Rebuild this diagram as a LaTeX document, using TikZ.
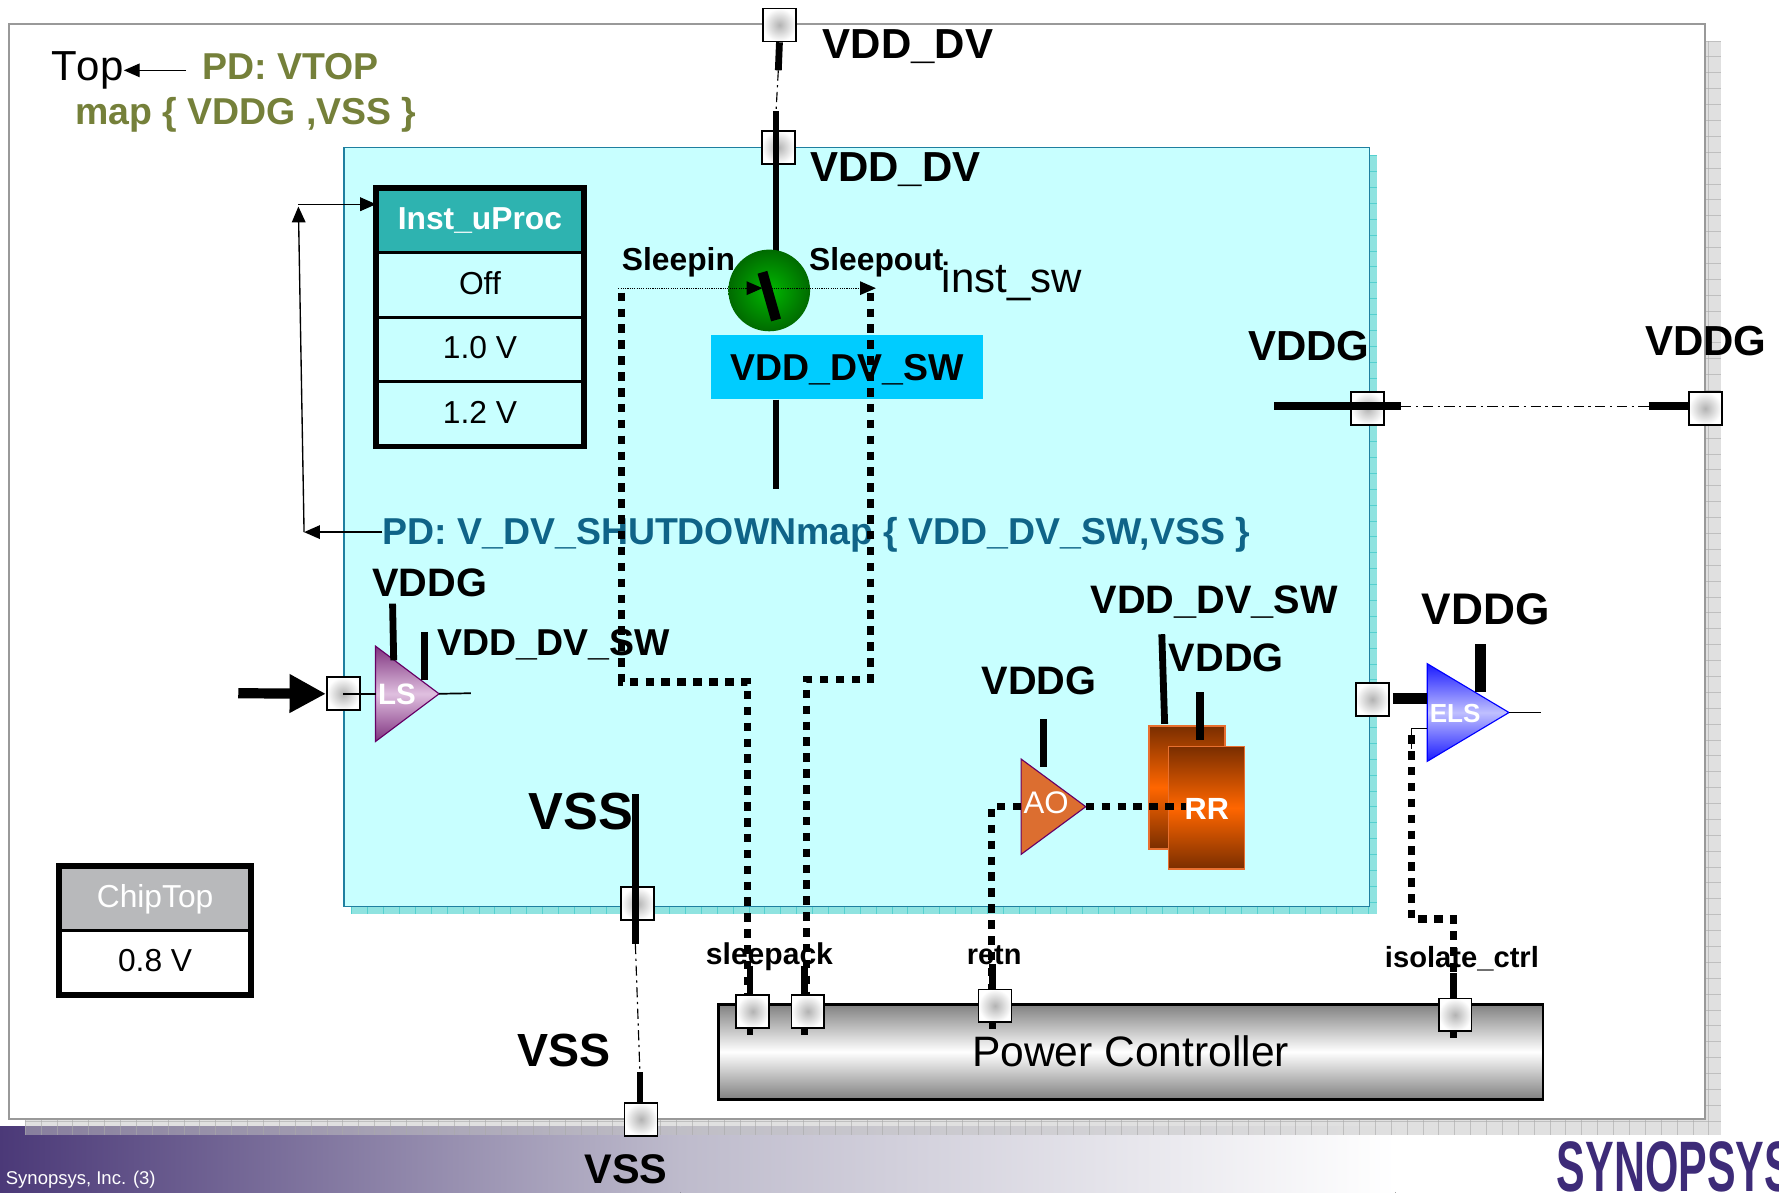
\documentclass[tikz,border=0pt]{standalone}
\usepackage{fontspec}
\setmainfont{Liberation Sans}
\usetikzlibrary{positioning,shapes.geometric,arrows.meta}

\definecolor{footpurple}{HTML}{4B3978}
\definecolor{footmid}{HTML}{BEBBCC}
\definecolor{logopurple}{HTML}{3D2B78}
\definecolor{shadegray}{HTML}{C1C1C1}
\definecolor{shadeline}{HTML}{A9A9A9}
\definecolor{domcyan}{HTML}{C8FFFF}
\definecolor{domedge}{HTML}{1F7FA0}
\definecolor{domshade}{HTML}{8FE3E0}
\definecolor{domline}{HTML}{55D0CF}
\definecolor{olivetxt}{HTML}{75803A}
\definecolor{pdblue}{HTML}{0F6488}
\definecolor{swbox}{HTML}{00CCFF}
\definecolor{swlight}{HTML}{00B800}
\definecolor{swdark}{HTML}{006A00}
\definecolor{hdrteal}{HTML}{2EB3B0}
\definecolor{hdrgray}{HTML}{B8B9BB}
\definecolor{aoorange}{HTML}{DC6E30}
\definecolor{rrbrown}{HTML}{7A2E00}
\definecolor{rrorange}{HTML}{FF6600}
\definecolor{rredge}{HTML}{E87030}

\begin{document}
\begin{tikzpicture}[x=1pt, y=-1pt, >={Triangle[length=14pt,width=12pt]},
                    lbl/.style={font=\fontsize{#1}{#1}\selectfont\bfseries, inner sep=0pt, anchor=base west},
                    txt/.style={font=\fontsize{#1}{#1}\selectfont, inner sep=0pt, anchor=base west},
                    prt/.style={draw=black, line width=1.5pt, inner color=gray!60, outer color=white, minimum size=29pt, inner sep=0pt},
                    pwr/.style={line width=6pt},
                    sgn/.style={line width=6.5pt, dash pattern=on 7.5pt off 6.5pt},
                    ddot/.style={line width=1pt, dash pattern=on 9pt off 4pt on 2pt off 4pt},
                    cellbox/.style={draw=black, line width=2.5pt, minimum width=183pt, minimum height=57pt, inner sep=0pt, outer sep=0pt, text depth=3.5pt, font=\fontsize{28}{28}\selectfont},
                    tri/.style={isosceles triangle, isosceles triangle stretches, shape border rotate=0, inner sep=0pt, outer sep=0pt, anchor=lower side, line width=1pt}]

\useasboundingbox (0,0) rectangle (1568,1051.4);

\fill[left color=footpurple, right color=footmid] (0,993) rectangle (600,1051.4);
\fill[left color=footmid, right color=white] (600,993) rectangle (1230,1051.4);

\fill[shadegray, fill opacity=.5] (22,36) rectangle (1517,1000);
\foreach \gx in {22,36,...,1517} \draw[shadeline, line width=.4pt, opacity=.6] (\gx,36) -- (\gx,1000);
\foreach \gy in {36,50,...,1000} \draw[shadeline, line width=.4pt, opacity=.6] (22,\gy) -- (1517,\gy);
\draw[fill=white, draw=gray!80, line width=1.5pt] (8,21) rectangle (1503,986);

\fill[domshade] (310,137) rectangle (1214,806);
\foreach \gx in {310,324,...,1214} \draw[domline, line width=.4pt] (\gx,137) -- (\gx,806);
\foreach \gy in {137,151,...,806} \draw[domline, line width=.4pt] (310,\gy) -- (1214,\gy);
\draw[fill=domcyan, draw=domedge, line width=1.5pt] (303,130) rectangle (1207,799);

\node[draw=black, line width=2.5pt, minimum width=727pt, minimum height=84pt, inner sep=0pt,
      top color=gray, bottom color=gray, middle color=white,
      font=\fontsize{37.5}{37.5}\selectfont] (pctl) at (996.5,927) {Power Controller};

\node[fill=swbox, minimum width=239pt, minimum height=57pt, inner sep=0pt] (swlbl) at (746.5,323.5) {};

% ports
\node[prt] (ptop) at (687,22) {};
\node[prt] (pdom) at (686,130) {};
\node[prt] (pvg) at (1205.5,360) {};
\node[prt] (pvgo) at (1503,360) {};
\node[prt] (pls) at (302.5,611.5) {};
\node[prt] (pss) at (562,796.5) {};
\node[prt] (psso) at (565,986.5) {};
\node[prt] (pslp) at (663.5,891.5) {};
\node[prt] (pack) at (712,891.5) {};
\node[prt] (prtn) at (877,886.5) {};
\node[prt] (piso) at (1282.5,894.5) {};
\node[prt] (pels) at (1209.5,616.5) {};

% free ends
\coordinate (vtopa) at (686,62);
\coordinate (vtopb) at (684,98);
\coordinate (vbot) at (684,431);
\coordinate (vga) at (1123,358);
\coordinate (vgb) at (1235,358);
\coordinate (vgc) at (1453,358);
\coordinate (ssa) at (560,700);
\coordinate (ssb) at (560,832);
\coordinate (ssc) at (564,945);
\coordinate (slpa) at (661,851);
\coordinate (slpb) at (661,912);
\coordinate (acka) at (709,851);
\coordinate (ackb) at (709,912);
\coordinate (rtna) at (875,850);
\coordinate (rtnb) at (875,907);
\coordinate (isoa) at (1281,858);
\coordinate (isob) at (1281,915);
\coordinate (sin) at (545,254);
\coordinate (sbar) at (672,254);
\coordinate (sout) at (772,254);
\coordinate (lsin) at (210,611);
\coordinate (lsout) at (415,611);
\coordinate (elsout) at (1358,628);
\coordinate (elsin) at (1258,642);

\draw[pwr] (ptop.south) -- (vtopa);
\draw[ddot] (vtopa) -- (vtopb);
\draw[pwr] (vtopb) -- (684,222);
\draw[pwr] (swlbl.south -| vbot) -- (vbot);
\draw[pwr, line width=7pt] (vga) -- (vgb);
\draw[ddot] (vgb) -- (vgc);
\draw[pwr, line width=7pt] (vgc) -- (pvgo.west |- vgc);
\draw[pwr] (ssa) -- (ssb);
\draw[ddot] (ssb) -- (ssc);
\draw[pwr] (ssc) -- (ssc |- psso.north);
\draw[pwr] (slpa) -- (slpa |- pslp.north);
\draw[pwr] (slpb |- pslp.south) -- (slpb);
\draw[pwr] (acka) -- (acka |- pack.north);
\draw[pwr] (ackb |- pack.south) -- (ackb);
\draw[pwr] (rtna) -- (rtna |- prtn.north);
\draw[pwr] (rtnb |- prtn.south) -- (rtnb);
\draw[pwr] (isoa) -- (isoa |- piso.north);
\draw[pwr] (isob |- piso.south) -- (isob);

% switch
\node[circle, minimum size=72pt, inner sep=0pt, inner color=swlight, outer color=swdark] (sw) at (678,256) {};
\draw[line width=9pt] (672,240) -- (684,282);
\draw[->, line width=1pt, densely dotted] (sin) -- (sbar);
\draw[->, line width=1pt, densely dotted] (sbar) -- (sout);

% uProc table
\node[cellbox, fill=hdrteal, text=white, font=\fontsize{28}{28}\selectfont\bfseries] (hdr) at (423,194) {Inst\_uProc};
\node[cellbox, below=0pt of hdr] (rowa) {Off};
\node[cellbox, below=0pt of rowa] (rowb) {1.0 V};
\node[cellbox, below=0pt of rowb] (rowc) {1.2 V};
\draw[line width=5pt] (hdr.north west) rectangle (rowc.south east);

% ChipTop table
\node[cellbox, minimum width=169.5pt, fill=hdrgray, text=white] (chip) at (136.7,791.5) {ChipTop};
\node[cellbox, minimum width=169.5pt, below=0pt of chip] (chipv) {0.8 V};
\draw[line width=5pt] (chip.north west) rectangle (chipv.south east);

\node[lbl=33, text=pdblue] (pdsw) at (337,480) {PD: V\_DV\_SHUTDOWNmap \{ VDD\_DV\_SW,VSS \}};
\coordinate (pdarr) at (268,469);
\coordinate (pdtop) at (263,180);
\draw[->, line width=1.2pt] (pdsw.west |- pdarr) -- (pdarr);
\draw[->, line width=1.2pt] (pdarr) -- (263,182);
\draw[->, line width=1.2pt] (pdtop) -- (hdr.north west |- pdtop);

\node[txt=37] (topn) at (45,71) {\addfontfeature{Kerning=Off}Top};
\node[lbl=33, text=olivetxt] (pdtopn) at (178,70) {PD: VTOP};
\node[lbl=33, text=olivetxt] (mapn) at (66,110) {map \{ VDDG ,VSS \}};
\draw[->, line width=1.2pt] (164,62) -- (topn.east |- 0,62);

% level shifter
\node[tri, draw=violet!80!black, top color=violet!75!black!80, bottom color=violet!75!black!80, middle color=violet!25, minimum width=84pt, minimum height=56pt] (ls) at (331,611.5) {};
\draw[line width=1.5pt] (pls.center) -- (ls.lower side);
\draw[line width=1.5pt] (ls.apex) -- (lsout);
\draw[line width=9pt, -{Triangle[length=32pt,width=32pt]}] (lsin) -- (pls.west);
\draw[pwr] (346,532) -- (347,582);
\draw[pwr] (374.5,557) -- (374.5,599);
\node[lbl=26, text=white] (lslbl) at (333,620.5) {LS};

% retention register
\node[draw=rredge, line width=1.5pt, top color=rrbrown, bottom color=rrbrown, middle color=rrorange, minimum width=67pt, minimum height=108pt, inner sep=0pt] (rrb) at (1046.5,694) {};
\draw[pwr] (1024,559) -- (1026.5,638);
\draw[pwr, line width=7pt] (1058,610) -- (1058,652);
\node[draw=rredge, line width=1.5pt, top color=rrbrown, bottom color=rrbrown, middle color=rrorange, minimum width=67pt, minimum height=108pt, inner sep=0pt] (rrf) at (1063.5,712) {};

% always-on buffer
\node[tri, draw=violet!80!black, fill=aoorange, minimum width=84pt, minimum height=57pt] (ao) at (900,711) {};
\draw[pwr] (920,634) -- (920,676);
\draw[sgn] (ao.apex) -- (1045,711);
\draw[sgn] (ao.lower side) -- (874,711) -- (874,711 |- prtn.north);
\node[txt=27.5, text=white] (aolbl) at (902,717) {AO};
\node[lbl=27, text=white] (rrlbl) at (1044,722) {RR};

% isolation cell
\node[tri, draw=blue, top color=blue!90, bottom color=blue!90, middle color=blue!25, minimum width=86pt, minimum height=72pt] (els) at (1258,628) {};
\draw[line width=1.5pt] (els.apex) -- (elsout);
\draw[line width=10pt] (pels.east) ++(3,-1) -- (1258,615.5);
\draw[line width=10pt] (1305,568) -- (1305,610);
\node[lbl=23, text=white] (elslbl) at (1260,637) {ELS};

% control routes
\draw[sgn] (548,258) -- (548,601) -- (659,601) -- (659,601 |- pslp.north);
\draw[sgn] (767,258) -- (767,599) -- (711,599) -- (711,599 |- pack.north);
\draw[line width=1.2pt] (elsin) -- (1244,642) -- (1244,660);
\draw[sgn] (1244,648) -- (1244,810) -- (1281,810) -- (1281,810 |- piso.north);

% labels
\node[lbl=37] (lvdva) at (725,52) {VDD\_DV};
\node[lbl=37] (lvdvb) at (714,160) {VDD\_DV};
\node[lbl=28] (lslpi) at (548,238) {Sleepin};
\node[lbl=28] (lslpo) at (713,238) {Sleepout};
\node[txt=37] (linst) at (830,258) {inst\_sw};
\node[lbl=33] (lswb) at (644,335) {VDD\_DV\_SW};
\node[lbl=37] (lvga) at (1100,318) {VDDG};
\node[lbl=37] (lvgb) at (1450,313) {VDDG};
\node[lbl=35] (lvgc) at (328,526) {VDDG};
\node[lbl=33] (lsws) at (385,578) {VDD\_DV\_SW};
\node[lbl=35] (lswr) at (961,541) {VDD\_DV\_SW};
\node[lbl=35] (lvgd) at (1030,592) {VDDG};
\node[lbl=35] (lvge) at (865,612) {VDDG};
\node[lbl=39] (lvgf) at (1253,550) {VDDG};
\node[lbl=46] (lssa) at (466,731) {VSS};
\node[lbl=41] (lssb) at (456,940) {VSS};
\node[lbl=36.5] (lssc) at (515,1043) {VSS};
\node[lbl=26.5] (lslp) at (622,850) {sleepack};
\node[lbl=25.5] (lrtn) at (852,850) {retn};
\node[lbl=25.7] (liso) at (1220.5,853) {isolate\_ctrl};

\node[txt=16.3, text=white] (foot) at (5,1044) {Synopsys, Inc. (3)};
\begin{scope}
\clip (1360,1000) rectangle (1568,1051.4);
\node[lbl=63, text=logopurple] (logo) at (1372,1050) {\scalebox{.6}[1]{SYNOPSYS}};
\end{scope}
\end{tikzpicture}
\end{document}
